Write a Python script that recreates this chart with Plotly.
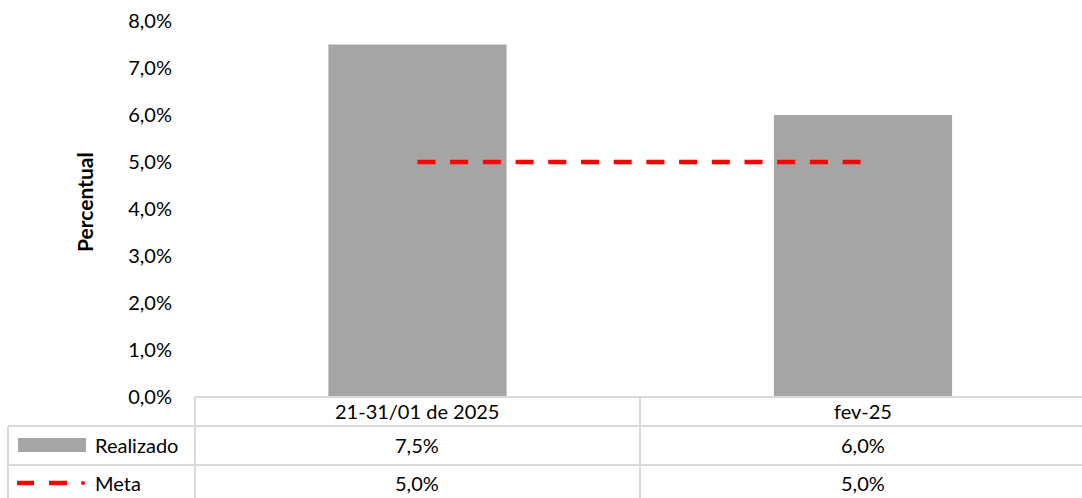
import plotly.graph_objects as go

categories = ["21-31/01 de 2025", "fev-25"]
realizado = [7.5, 6.0]
meta = [5.0, 5.0]
series_names = ["Realizado", "Meta"]
y_ticks = [0, 1, 2, 3, 4, 5, 6, 7, 8]

W, H = 1082, 498
FONT = "Lato"
FS = 20
GRID = "#d9d9d9"
BAR = "#a5a5a5"
RED = "#ff0000"

def px(x):
    return x / W

def py(y):
    return 1 - y / H

def fmt(v):
    return f"{v:.1f}".replace(".", ",") + "%"

fig = go.Figure()
fig.add_trace(go.Bar(x=categories, y=realizado, name=series_names[0],
                     marker=dict(color=BAR, line=dict(width=0)), width=0.4,
                     showlegend=False, hoverinfo="skip"))
fig.add_trace(go.Scatter(x=categories, y=meta, name=series_names[1], mode="lines",
                         line=dict(color=RED, width=4.5, dash="18px,14.7px"),
                         showlegend=False, hoverinfo="skip"))

x0, x1 = 195, 1082
y0, y1 = 397, 21
fig.update_layout(
    width=W, height=H,
    margin=dict(l=0, r=0, t=0, b=0, autoexpand=False),
    paper_bgcolor="white", plot_bgcolor="white",
    separators=",.",
    font=dict(family=FONT, size=FS, color="#000000"),
    xaxis=dict(domain=[px(x0), px(x1)], range=[-0.4994, 1.4916],
               showticklabels=False, showgrid=False, zeroline=False,
               showline=False, ticks="", automargin=False),
    yaxis=dict(domain=[py(y0), py(y1)], range=[0, 8], tickvals=y_ticks,
               ticktext=[fmt(v) for v in y_ticks],
               showgrid=False, zeroline=False, showline=False,
               ticks="", ticklabelstandoff=22, automargin=False,
               tickfont=dict(family=FONT, size=FS)),
)

# Y axis title
fig.add_annotation(text="<b>Percentual</b>", xref="paper", yref="paper",
                   x=px(85), y=py(202), textangle=-90, showarrow=False,
                   xanchor="center", yanchor="middle",
                   font=dict(family=FONT, size=21))

# Data table lines
lines = [
    (195, 397, 1082, 397),
    (8, 426, 1082, 426),
    (8, 465, 1082, 465),
    (8, 426, 8, 498),
    (195, 397, 195, 498),
    (640, 397, 640, 498),
]
for (a, b, c, d) in lines:
    fig.add_shape(type="line", xref="paper", yref="paper",
                  x0=px(a), y0=py(b), x1=px(c), y1=py(d),
                  line=dict(color=GRID, width=2))

# header and values
row_y = [411, 445, 483]
for i, cat in enumerate(categories):
    for txt, yy in [(cat, row_y[0]), (fmt(realizado[i]), row_y[1]), (fmt(meta[i]), row_y[2])]:
        fig.add_annotation(text=txt, x=cat, xref="x", y=py(yy), yref="paper",
                           xanchor="center", yanchor="middle",
                           showarrow=False, font=dict(family=FONT, size=FS))

# legend keys in table
fig.add_shape(type="rect", xref="paper", yref="paper",
              x0=px(18), x1=px(86), y0=py(438), y1=py(452),
              fillcolor=BAR, line=dict(width=0))
for (a, b) in [(17, 34), (49, 67)]:
    fig.add_shape(type="line", xref="paper", yref="paper",
                  x0=px(a), x1=px(b), y0=py(483), y1=py(483),
                  line=dict(color=RED, width=4.5))
fig.add_shape(type="circle", xref="paper", yref="paper",
              x0=px(81), x1=px(85), y0=py(481), y1=py(485),
              fillcolor=RED, line=dict(width=0))
for name, yy in zip(series_names, row_y[1:]):
    fig.add_annotation(text=name, xref="paper", yref="paper", x=px(93), y=py(yy),
                       xanchor="left", yanchor="middle", showarrow=False,
                       font=dict(family=FONT, size=FS))

fig.write_html("out.html", config={"displayModeBar": False},
               post_script="document.body.style.margin='0';document.body.style.overflow='hidden';")
